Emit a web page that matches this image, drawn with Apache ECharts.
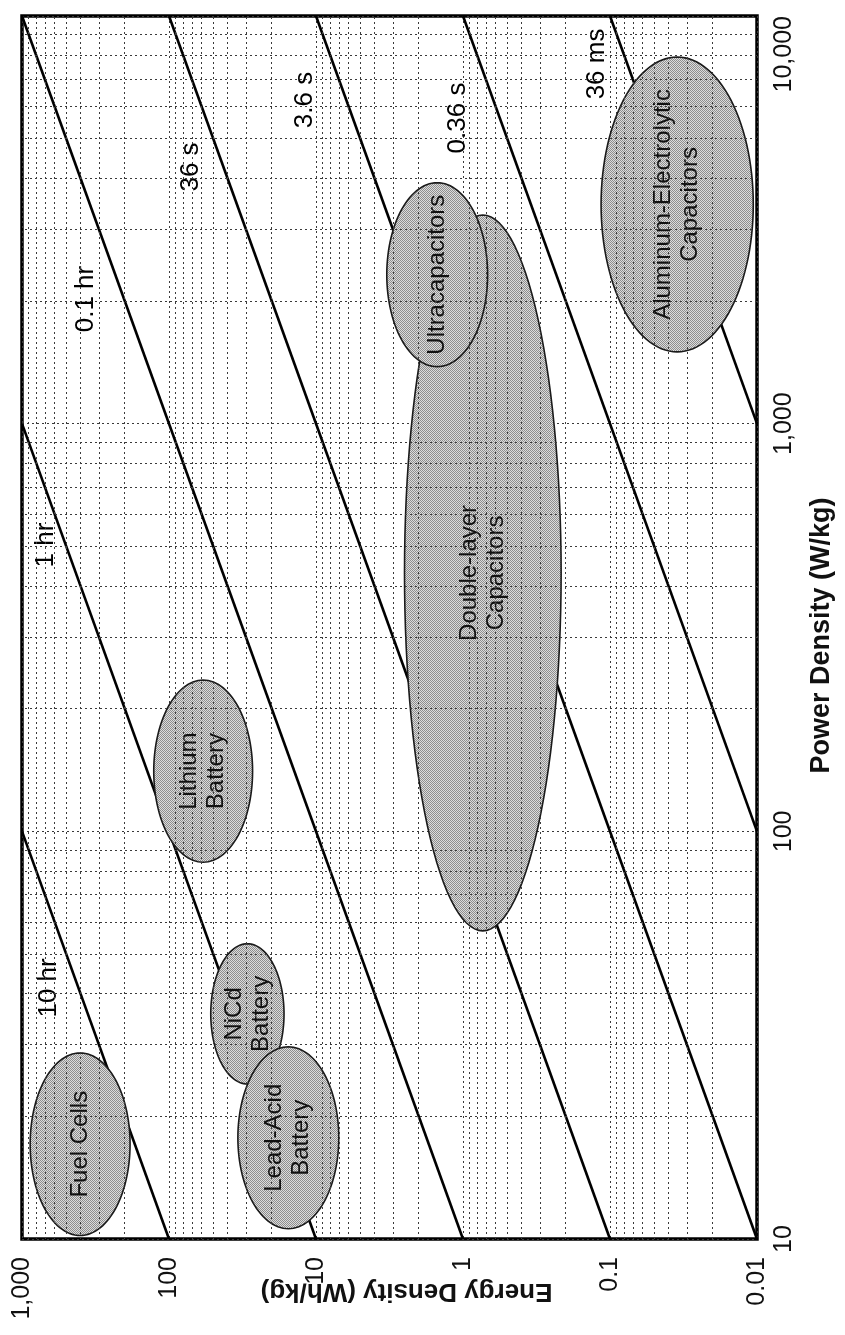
<!DOCTYPE html>
<html><head><meta charset="utf-8">
<script src="https://cdn.jsdelivr.net/npm/echarts@6/dist/echarts.min.js"></script>
<style>html,body{margin:0;padding:0;background:#fff}#c{width:845px;height:1335px}</style>
</head><body><div id="c"></div>
<script>
// ---- data ----
const energyTickValues = [0.01, 0.1, 1, 10, 100, 1000];
const energyTickLabels = ['0.01', '0.1', '1', '10', '100', '1,000'];
const powerTickValues = [10, 100, 1000, 10000];
const powerTickLabels = ['10', '100', '1,000', '10,000'];

const techNames = ['Fuel Cells', 'NiCd\nBattery', 'Lead-Acid\nBattery', 'Lithium\nBattery',
  'Double-layer\nCapacitors', 'Ultracapacitors', 'Aluminum-Electrolytic\nCapacitors'];
const techEnergyMin = [184, 16.5, 7.0, 27, 0.215, 0.68, 0.0106];
const techEnergyMax = [880, 52, 34, 127, 2.5, 3.3, 0.115];
const techPowerMin = [10.2, 24, 10.6, 84, 57, 1380, 1500];
const techPowerMax = [28.6, 53, 29.6, 235, 3250, 3900, 7930];

const timeLabels = ['10 hr', '1 hr', '0.1 hr', '36 s', '3.6 s', '0.36 s', '36 ms'];
const lineStartEnergy = [100, 10, 1, 0.1, 0.01, 0.01, 0.01];
const lineStartPower = [10, 10, 10, 10, 10, 100, 1000];
const lineEndEnergy = [1000, 1000, 1000, 100, 10, 1, 0.1];
const lineEndPower = [100, 1000, 10000, 10000, 10000, 10000, 10000];
const timeLabelEnergy = [655, 687, 367, 70.8, 11.9, 1.08, 0.1226];
const timeLabelPower = [41.3, 504, 2022, 4263, 6223, 5620, 7627];

const minorMultipliers = [2, 3, 4, 5, 6, 7, 8, 9];
const energyDecades = [0.01, 0.1, 1, 10, 100];
const powerDecades = [10, 100, 1000];

// ---- styling helpers ----
const FONT = '"Liberation Sans", Arial, Helvetica, sans-serif';
const gridLine = { color: '#3a3a3a', width: 1, type: [2, 3] };

function fmt(values, labels) {
  return function (v) {
    for (let i = 0; i < values.length; i++) {
      if (Math.abs(Math.log10(v) - Math.log10(values[i])) < 1e-6) return labels[i];
    }
    return '';
  };
}

// halftone-like fill
const tile = document.createElement('canvas');
tile.width = 2; tile.height = 2;
const tc = tile.getContext('2d');
tc.fillStyle = '#dcdcdc'; tc.fillRect(0, 0, 2, 2);
tc.fillStyle = '#8e8e8e'; tc.fillRect(0, 0, 1, 1); tc.fillRect(1, 1, 1, 1);
const halftone = { image: tile, repeat: 'repeat' };

const minorMarks = [];
energyDecades.forEach(d => minorMultipliers.forEach(m => minorMarks.push({ xAxis: +(d * m).toPrecision(6) })));
powerDecades.forEach(d => minorMultipliers.forEach(m => minorMarks.push({ yAxis: +(d * m).toPrecision(6) })));

const series = [];
series.push({
  type: 'line', data: [], silent: true, z: 1,
  markLine: {
    silent: true, symbol: ['none', 'none'], label: { show: false },
    lineStyle: gridLine, animation: false, data: minorMarks
  }
});
timeLabels.forEach((t, i) => {
  series.push({
    type: 'line', name: t, z: 2, silent: true, symbol: 'none', clip: true,
    lineStyle: { color: '#000', width: 2.6 },
    data: [[lineStartEnergy[i], lineStartPower[i]], [lineEndEnergy[i], lineEndPower[i]]]
  });
});
// time-constant labels
series.push({
  type: 'custom', z: 4, silent: true,
  encode: { x: 0, y: 1 },
  data: timeLabelEnergy.map((e, i) => [e, timeLabelPower[i]]),
  renderItem: function (params, api) {
    const p = api.coord([api.value(0), api.value(1)]);
    return { type: 'text', x: p[0], y: p[1], rotation: Math.PI / 2,
      style: { text: timeLabels[params.dataIndex], font: '26px ' + FONT, fill: '#000',
               align: 'center', verticalAlign: 'middle' } };
  }
});
// technology regions
series.push({
  type: 'custom', z: 3, silent: true, clip: true,
  encode: { x: [0, 1], y: [2, 3] },
  data: techNames.map((n, i) => [techEnergyMin[i], techEnergyMax[i], techPowerMin[i], techPowerMax[i]]),
  renderItem: function (params, api) {
    const a = api.coord([api.value(1), api.value(3)]);
    const b = api.coord([api.value(0), api.value(2)]);
    const cx = (a[0] + b[0]) / 2, cy = (a[1] + b[1]) / 2;
    const rx = Math.abs(b[0] - a[0]) / 2, ry = Math.abs(b[1] - a[1]) / 2;
    const pts = [];
    for (let k = 0; k < 120; k++) {
      const t = k / 120 * Math.PI * 2;
      pts.push([cx + rx * Math.cos(t), cy + ry * Math.sin(t)]);
    }
    return {
      type: 'group', children: [
        { type: 'polygon', shape: { points: pts }, style: { fill: halftone, stroke: '#1a1a1a', lineWidth: 1.6 } },
        { type: 'text', x: cx, y: cy, rotation: Math.PI / 2,
          style: { text: techNames[params.dataIndex], font: '24px ' + FONT, fill: '#111',
                   align: 'center', verticalAlign: 'middle', lineHeight: 27 } }
      ]
    };
  }
});

const chart = echarts.init(document.getElementById('c'), null, { renderer: 'canvas' });
chart.setOption({
  animation: false,
  backgroundColor: '#fff',
  grid: { left: 22, right: 88, top: 16, bottom: 96, show: true, borderColor: '#000', borderWidth: 3.5,
          containLabel: false, outerBoundsMode: 'none' },
  xAxis: {
    type: 'log', logBase: 10, min: 0.01, max: 1000, inverse: true, position: 'bottom',
    name: 'Energy Density (Wh/kg)', nameLocation: 'middle', nameRotate: 180, nameGap: 39,
    nameMoveOverlap: false,
    nameTextStyle: { fontSize: 26, fontWeight: 'bold', color: '#111', fontFamily: FONT, padding: [0, 34, 0, 0] },
    axisLine: { show: false }, axisTick: { show: false },
    axisLabel: { rotate: 90, margin: 18, fontSize: 25, color: '#111', fontFamily: FONT,
                 showMinLabel: true, showMaxLabel: true, hideOverlap: false,
                 formatter: fmt(energyTickValues, energyTickLabels) },
    splitLine: { show: true, lineStyle: gridLine }
  },
  yAxis: {
    type: 'log', logBase: 10, min: 10, max: 10000, position: 'right',
    name: 'Power Density (W/kg)', nameLocation: 'middle', nameRotate: 90, nameGap: 51,
    nameMoveOverlap: false,
    nameTextStyle: { fontSize: 27, fontWeight: 'bold', color: '#111', fontFamily: FONT, padding: [0, 16, 0, 0] },
    axisLine: { show: false }, axisTick: { show: false },
    axisLabel: { rotate: 90, margin: 15, fontSize: 25, color: '#111', fontFamily: FONT,
                 showMinLabel: true, showMaxLabel: true, hideOverlap: false, alignMaxLabel: 'right',
                 formatter: fmt(powerTickValues, powerTickLabels) },
    splitLine: { show: true, lineStyle: gridLine }
  },
  series: series
});
</script></body></html>
